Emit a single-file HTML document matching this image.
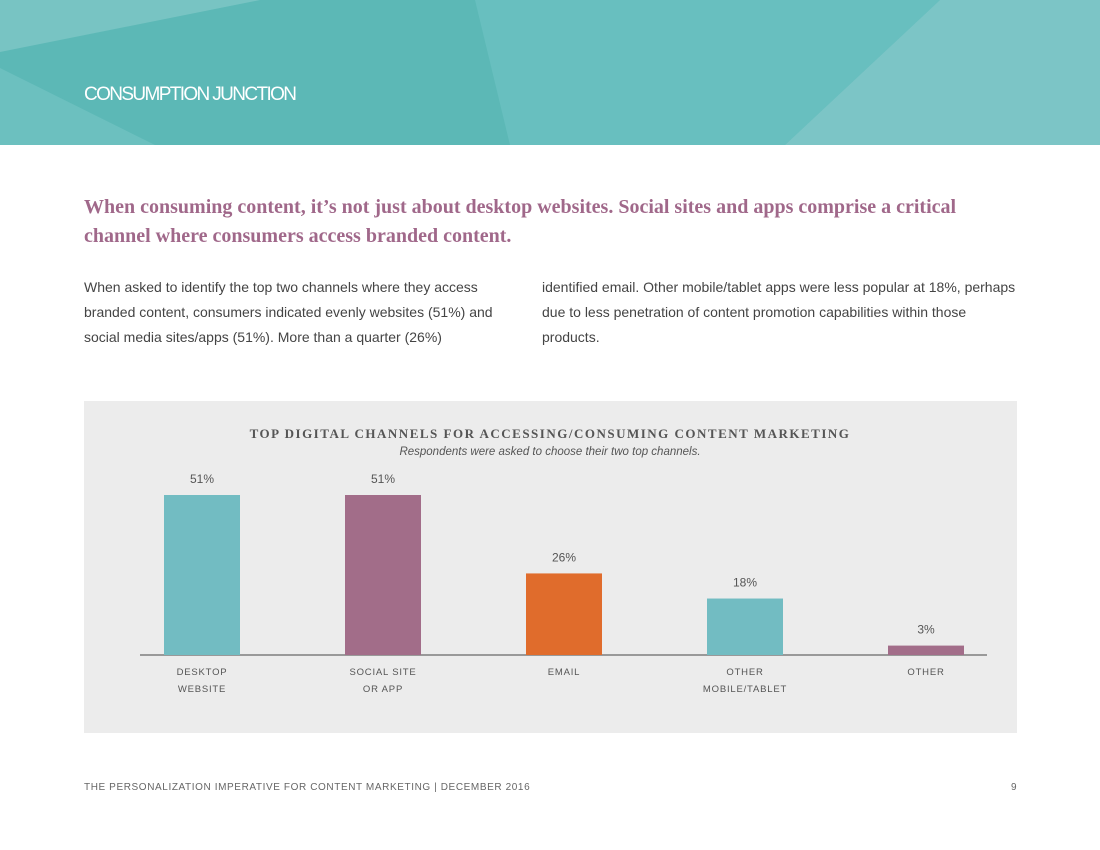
<!DOCTYPE html>
<html><head><meta charset="utf-8"><style>
body{margin:0;width:1100px;height:850px;background:#fff;font-family:"Liberation Sans",sans-serif;position:relative;overflow:hidden}
.abs{position:absolute}
</style></head><body>
<svg class="abs" style="left:0;top:0" width="1100" height="145">
<rect width="1100" height="145" fill="#5cb8b6"/>
<polygon points="0,0 260,0 0,52" fill="#78c4c3"/>
<polygon points="0,68 155,145 0,145" fill="#6cc0bf"/>
<polygon points="475,0 940,0 785,145 510,145" fill="#68bfbf"/>
<polygon points="940,0 1100,0 1100,145 785,145" fill="#7cc5c6"/>
<text x="84" y="100" fill="#fff" font-family="Liberation Sans Narrow, Liberation Sans, sans-serif" font-size="19" letter-spacing="1" textLength="214">CONSUMPTION JUNCTION</text>
</svg>
<div class="abs" style="left:84px;top:193px;width:920px;font-family:'Liberation Serif',serif;font-weight:bold;font-size:20px;line-height:29px;color:#a0688a">When consuming content, it’s not just about desktop websites. Social sites and apps comprise a critical channel where consumers access branded content.</div>
<div class="abs" style="left:84px;top:275px;width:440px;font-size:14px;line-height:25px;color:#444">When asked to identify the top two channels where they access branded content, consumers indicated evenly websites (51%) and social media sites/apps (51%). More than a quarter (26%)</div>
<div class="abs" style="left:542px;top:275px;width:480px;font-size:14px;line-height:25px;color:#444">identified email. Other mobile/tablet apps were less popular at 18%, perhaps due to less penetration of content promotion capabilities within those products.</div>
<svg class="abs" style="left:84px;top:401px" width="933" height="332" id="chart">
<rect width="933" height="332" fill="#ececec"/>
<text x="466" y="37" text-anchor="middle" font-family="Liberation Serif,serif" font-weight="bold" font-size="13" letter-spacing="1.5" fill="#555">TOP DIGITAL CHANNELS FOR ACCESSING/CONSUMING CONTENT MARKETING</text>
<text x="466" y="54" text-anchor="middle" font-style="italic" font-size="11.5" fill="#555">Respondents were asked to choose their two top channels.</text>
<line x1="56" y1="254" x2="903" y2="254" stroke="#999" stroke-width="2"/>
<g id="bars"></g>
</svg>
<div class="abs" style="left:84px;top:782px;font-size:10px;letter-spacing:0.6px;color:#666">THE PERSONALIZATION IMPERATIVE FOR CONTENT MARKETING | DECEMBER 2016</div>
<div class="abs" style="left:1011px;top:782px;font-size:10px;color:#666">9</div>
<script>
const categories=[["DESKTOP","WEBSITE"],["SOCIAL SITE","OR APP"],["EMAIL"],["OTHER","MOBILE/TABLET"],["OTHER"]];
const values=[51,51,26,18,3];
const valueLabels=["51%","51%","26%","18%","3%"];
const colors=["#72bcc2","#a26d89","#e06c2c","#72bcc2","#a26d89"];
const g=document.getElementById('bars');const NS="http://www.w3.org/2000/svg";
const baseY=254,scale=160/51,x0=80,step=181,bw=76;
const xPos=i=>x0+i*step, yH=v=>v*scale;
values.forEach((v,i)=>{
const r=document.createElementNS(NS,'rect');
r.setAttribute('x',xPos(i));r.setAttribute('y',baseY-yH(v));r.setAttribute('width',bw);r.setAttribute('height',yH(v));r.setAttribute('fill',colors[i]);


g.appendChild(r);
const t=document.createElementNS(NS,'text');
t.setAttribute('x',xPos(i)+bw/2);t.setAttribute('y',baseY-yH(v)-12);t.setAttribute('text-anchor','middle');t.setAttribute('font-size','12');t.setAttribute('fill','#555');
t.textContent=valueLabels[i];


g.appendChild(t);
categories[i].forEach((line,j)=>{
const c=document.createElementNS(NS,'text');
c.setAttribute('x',xPos(i)+bw/2);c.setAttribute('y',baseY+20+j*17);c.setAttribute('text-anchor','middle');c.setAttribute('font-size','9.5');c.setAttribute('letter-spacing','0.8');c.setAttribute('fill','#555');
c.textContent=line;


g.appendChild(c);});
});
</script>
</body></html>
